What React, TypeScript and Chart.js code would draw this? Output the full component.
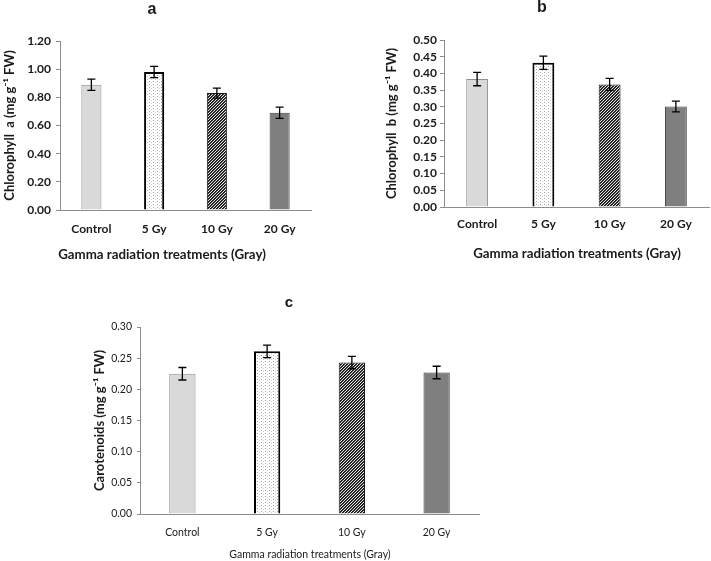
import React, { useEffect, useRef } from "react";
import { Chart, registerables } from "chart.js";
Chart.register(...registerables);

const categories = ["Control", "5 Gy", "10 Gy", "20 Gy"];
const chlA = [0.89, 0.98, 0.83, 0.69];
const chlAErr = [0.04, 0.04, 0.035, 0.04];
const chlB = [0.383, 0.432, 0.367, 0.301];
const chlBErr = [0.02, 0.02, 0.018, 0.016];
const carot = [0.225, 0.261, 0.243, 0.227];
const carotErr = [0.01, 0.01, 0.01, 0.01];

const FONT = "Lato, 'Open Sans', sans-serif";

function makeDots(): CanvasPattern | string {
  const c = document.createElement("canvas");
  c.width = 4; c.height = 3;
  const g = c.getContext("2d");
  if (!g) return "#fff";
  g.fillStyle = "#ffffff"; g.fillRect(0, 0, 4, 3);
  g.fillStyle = "#a0a0a0";
  g.fillRect(1, 0, 1, 1);
  g.fillStyle = "#d0d0d0";
  g.fillRect(3, 1, 1, 1);
  return g.createPattern(c, "repeat") || "#fff";
}
function makeHatch(): CanvasPattern | string {
  const c = document.createElement("canvas");
  c.width = 3; c.height = 3;
  const g = c.getContext("2d");
  if (!g) return "#555";
  for (let x = 0; x < 3; x++) {
    for (let y = 0; y < 3; y++) {
      const k = (x + y) % 3;
      g.fillStyle = k === 0 ? "#e6e6e6" : k === 1 ? "#111111" : "#3c3c3c";
      g.fillRect(x, y, 1, 1);
    }
  }
  return g.createPattern(c, "repeat") || "#555";
}

const errorBarPlugin = {
  id: "errorBars",
  afterDatasetsDraw(chart: any, _args: any, opts: any) {
    const errs: number[] = opts.errors || [];
    const meta = chart.getDatasetMeta(0);
    const ys = chart.scales.y;
    const data = chart.data.datasets[0].data as number[];
    const ctx = chart.ctx;
    ctx.save();
    ctx.strokeStyle = "#000";
    ctx.lineWidth = opts.lineWidth || 1.3;
    const cap = opts.cap || 4;
    meta.data.forEach((bar: any, i: number) => {
      const v = data[i];
      const e = errs[i];
      const t = ys.getPixelForValue(v + e);
      const b = ys.getPixelForValue(v - e);
      const x = bar.x;
      ctx.beginPath();
      ctx.moveTo(x, t); ctx.lineTo(x, b);
      ctx.moveTo(x - cap, t); ctx.lineTo(x + cap, t);
      ctx.moveTo(x - cap, b); ctx.lineTo(x + cap, b);
      ctx.stroke();
    });
    ctx.restore();
  },
};

type PanelProps = {
  left: number; top: number; width: number; height: number;
  values: number[]; errors: number[]; max: number; step: number;
  padTop: number; padRight: number; yWidth: number; xHeight: number;
  yTitle: string; yTitlePad: number; yTickPad: number; yTickLen: number;
  xTickPad: number; barPct: number; tickBold: boolean; tickSize: number;
};

function BarPanel(p: PanelProps) {
  const ref = useRef<HTMLCanvasElement | null>(null);
  useEffect(() => {
    if (!ref.current) return;
    const dots = makeDots();
    const hatch = makeHatch();
    const tickFont = { family: FONT, size: p.tickSize, weight: p.tickBold ? "bold" : "normal" } as any;
    const chart = new Chart(ref.current, {
      type: "bar",
      data: {
        labels: categories,
        datasets: [{
          data: p.values,
          backgroundColor: ["#d9d9d9", dots, hatch, "#7f7f7f"] as any,
          borderColor: ["#8f8f8f", "#000000", "#1a1a1a", "#3f3f3f"],
          borderWidth: [1, 2, 1, 1] as any,
          categoryPercentage: 1,
          barPercentage: p.barPct,
        }],
      },
      options: {
        animation: false,
        responsive: false,
        maintainAspectRatio: false,
        layout: { padding: { top: p.padTop, right: p.padRight, left: 0, bottom: 0 } },
        plugins: {
          legend: { display: false },
          tooltip: { enabled: false },
          errorBars: { errors: p.errors, cap: 4, lineWidth: 1.3 },
        } as any,
        scales: {
          x: {
            grid: { display: false, drawTicks: false },
            border: { display: true, color: "#8c8c8c", width: 1 },
            ticks: { font: tickFont, color: "#1a1a1a", padding: p.xTickPad, autoSkip: false, maxRotation: 0 },
            afterFit: (s: any) => { s.height = p.xHeight; },
          },
          y: {
            min: 0, max: p.max,
            grid: { display: true, drawOnChartArea: false, drawTicks: true, tickLength: p.yTickLen, color: "#8c8c8c" },
            border: { display: true, color: "#8c8c8c", width: 1 },
            ticks: {
              stepSize: p.step,
              autoSkip: false,
              font: tickFont,
              color: "#1a1a1a",
              padding: p.yTickPad,
              callback: (v: any) => Number(v).toFixed(2),
            },
            title: {
              display: true,
              text: p.yTitle,
              font: { family: FONT, size: 13, weight: "bold" } as any,
              color: "#1a1a1a",
              padding: { top: p.yTitlePad, bottom: 0 },
            },
            afterFit: (s: any) => { s.width = p.yWidth; },
          },
        },
      },
      plugins: [errorBarPlugin as any],
    });
    return () => chart.destroy();
  }, []);
  return (
    <canvas
      ref={ref}
      width={p.width}
      height={p.height}
      style={{ position: "absolute", left: p.left, top: p.top, width: p.width, height: p.height }}
    />
  );
}

function Label(props: { x: number; y: number; text: string; size: number; bold: boolean; family?: string }) {
  return (
    <div
      style={{
        position: "absolute",
        left: props.x,
        top: props.y,
        transform: "translate(-50%, -50%)",
        whiteSpace: "nowrap",
        fontFamily: props.family || FONT,
        fontSize: props.size,
        fontWeight: props.bold ? "bold" : "normal",
        color: "#1a1a1a",
        lineHeight: 1,
      }}
    >
      {props.text}
    </div>
  );
}

export default function App() {
  return (
    <div style={{ position: "fixed", left: 0, top: 0, width: 711, height: 561, background: "#fff", overflow: "hidden" }}>
      <BarPanel
        left={0} top={0} width={330} height={270}
        values={chlA} errors={chlAErr} max={1.2} step={0.2}
        padTop={41} padRight={19} yWidth={60} xHeight={60}
        yTitle="Chlorophyll  a (mg g⁻¹ FW)" yTitlePad={2} yTickPad={5} yTickLen={4}
        xTickPad={12} barPct={0.32} tickBold={true} tickSize={12}
      />
      <BarPanel
        left={355} top={0} width={356} height={270}
        values={chlB} errors={chlBErr} max={0.5} step={0.05}
        padTop={40} padRight={2} yWidth={89} xHeight={63}
        yTitle="Chlorophyll  b (mg g⁻¹ FW)" yTitlePad={29} yTickPad={3} yTickLen={4}
        xTickPad={10} barPct={0.33} tickBold={true} tickSize={12}
      />
      <BarPanel
        left={0} top={280} width={711} height={281}
        values={carot} errors={carotErr} max={0.3} step={0.05}
        padTop={47} padRight={232} yWidth={140} xHeight={47}
        yTitle="Carotenoids (mg g⁻¹ FW)" yTitlePad={92} yTickPad={5} yTickLen={3}
        xTickPad={12} barPct={0.31} tickBold={false} tickSize={10.5}
      />
      <Label x={152} y={9} text="a" size={16} bold={true} family="'Liberation Sans', Arial, sans-serif" />
      <Label x={542} y={7} text="b" size={16} bold={true} family="'Liberation Sans', Arial, sans-serif" />
      <Label x={289} y={301} text="c" size={15} bold={true} family="'Liberation Sans', Arial, sans-serif" />
      <Label x={162} y={255} text="Gamma radiation treatments (Gray)" size={13.3} bold={true} />
      <Label x={577} y={254} text="Gamma radiation treatments (Gray)" size={13.3} bold={true} />
      <Label x={310} y={554} text="Gamma radiation treatments (Gray)" size={10.5} bold={false} />
    </div>
  );
}
